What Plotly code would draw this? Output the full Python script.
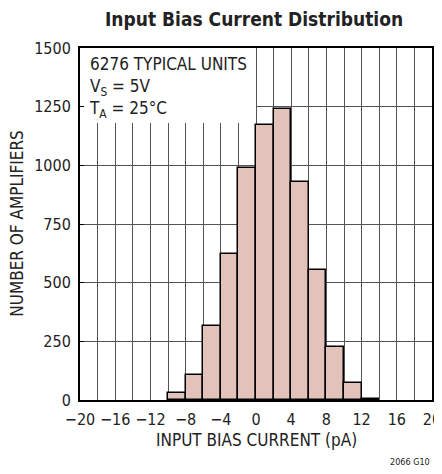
import plotly.graph_objects as go

# histogram bins (pA, bin centres) and counts
bin_centers = [-9, -7, -5, -3, -1, 1, 3, 5, 7, 9, 11, 13]
counts = [29, 108, 314, 622, 987, 1170, 1238, 930, 553, 224, 74, 6]

x_tickvals = [-20, -18, -16, -14, -12, -10, -8, -6, -4, -2, 0, 2, 4, 6, 8, 10, 12, 14, 16, 18, 20]
x_ticktext = ["−20", "", "−16", "", "−12", "", "−8", "", "−4", "", "0", "", "4", "", "8", "", "12", "", "16", "", "20"]
y_tickvals = [0, 250, 500, 750, 1000, 1250, 1500]

FONT = "DejaVu Sans Condensed, Liberation Sans Narrow, Arial Narrow, sans-serif"
GRID = "#555555"
TXT = "#222222"

fig = go.Figure()
fig.add_trace(go.Bar(
    x=bin_centers, y=counts, width=2,
    marker=dict(color="#e4c2bc", line=dict(color="black", width=1.5)),
))

# white label box hiding the grid in the top-left corner
fig.add_shape(type="rect", xref="x", yref="y", x0=-20, x1=0, y0=1180, y1=1500,
              fillcolor="white", line=dict(width=0), layer="between")

fig.add_annotation(
    xref="paper", yref="paper", x=0.02, y=0.99, xanchor="left", yanchor="top",
    align="left", showarrow=False,
    text="6276 TYPICAL UNITS<br>V<sub>S</sub> = 5V<br>T<sub>A</sub> = 25°C",
    font=dict(family=FONT, size=17, color=TXT),
)
# axis titles
fig.add_annotation(
    xref="paper", yref="paper", x=0.5, y=-0.114, xanchor="center", yanchor="middle",
    showarrow=False, text="INPUT BIAS CURRENT (pA)", font=dict(family=FONT, size=17, color=TXT),
)
fig.add_annotation(
    xref="paper", yref="paper", x=-0.18, y=0.5, xanchor="center", yanchor="middle",
    textangle=-90, showarrow=False, text="NUMBER OF AMPLIFIERS",
    font=dict(family=FONT, size=17, color=TXT),
)
fig.add_annotation(
    xref="paper", yref="paper", x=1.0, y=-0.176, xanchor="right", yanchor="middle",
    showarrow=False, text="2066 G10", font=dict(family=FONT, size=9, color=TXT),
)

fig.update_layout(
    width=434, height=458,
    margin=dict(l=72, r=10, t=40, b=66),
    paper_bgcolor="white", plot_bgcolor="white",
    showlegend=False, bargap=0,
    title=dict(text="<b>Input Bias Current Distribution</b>", x=0.567, xanchor="center",
               xref="container", y=0.99, yanchor="top",
               font=dict(family=FONT, size=19, color=TXT)),
    font=dict(family=FONT, size=16, color=TXT),
)
fig.update_xaxes(
    range=[-20, 20], tickvals=x_tickvals, ticktext=x_ticktext,
    showgrid=True, gridcolor=GRID, gridwidth=1,
    showline=True, linecolor="black", linewidth=2, mirror=True,
    ticks="", zeroline=False, automargin=False, ticklabelstandoff=4,
    ticklabeloverflow="allow", tickfont=dict(size=16),
)
fig.update_yaxes(
    range=[0, 1500], tickvals=y_tickvals,
    showgrid=True, gridcolor=GRID, gridwidth=1,
    showline=True, linecolor="black", linewidth=2, mirror=True,
    ticks="inside", ticklen=4, tickcolor="black", zeroline=False, automargin=False,
    ticklabelstandoff=4, tickfont=dict(size=16),
)

fig.write_html("out.html")
